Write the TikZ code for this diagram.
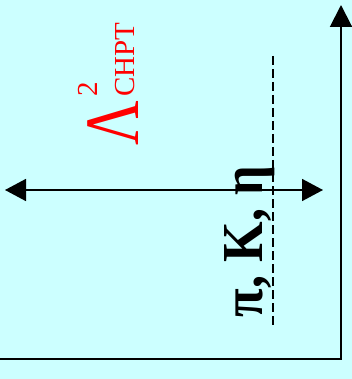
\documentclass[tikz,border=0pt]{standalone}
\usepackage{fontspec}
\setmainfont{Liberation Serif}
\usetikzlibrary{arrows.meta}
\definecolor{bgc}{RGB}{204,255,255}
\tikzset{
  axisline/.style={line width=2pt, -{Triangle[length=22pt,width=22pt]}},
  dblarrow/.style={line width=1.6pt, {Triangle[length=21pt,width=22pt]}-{Triangle[length=21pt,width=22pt]}},
  dashline/.style={line width=1.5pt, dash pattern=on 9pt off 4pt},
  rtext/.style={rotate=90, anchor=base west, inner sep=0pt, outer sep=0pt},
}
\begin{document}
\begin{tikzpicture}[x=1pt,y=-1pt]
\fill[bgc] (0,0) rectangle (352,379);
\useasboundingbox (0,0) rectangle (352,379);
% axes
\coordinate (origin) at (0,359);
\coordinate (corner) at (341,359);
\coordinate (top) at (341,5);
\draw[axisline] (origin) -- (corner) -- (top);
% double arrow
\coordinate (left) at (5,190);
\coordinate (right) at (323,190);
\draw[dblarrow] (left) -- (right);
% dashed line
\coordinate (dtop) at (273,56);
\coordinate (dbot) at (273,327);
\draw[dashline] (dtop) -- (dbot);
% labels
\node[rtext, font=\fontsize{58}{60}\selectfont\bfseries, xscale=0.9] (mesons) at (262,317) {π, K, η};
\node[rtext, text=red, font=\fontsize{77}{80}\selectfont, xscale=0.8] (lam) at (138,146) {Λ};
\node[rtext, text=red, font=\fontsize{29}{30}\selectfont] (sup) at (97,97) {2};
\node[rtext, text=red, font=\fontsize{29}{30}\selectfont] (sub) at (134,97) {CHPT};
\end{tikzpicture}
\end{document}
